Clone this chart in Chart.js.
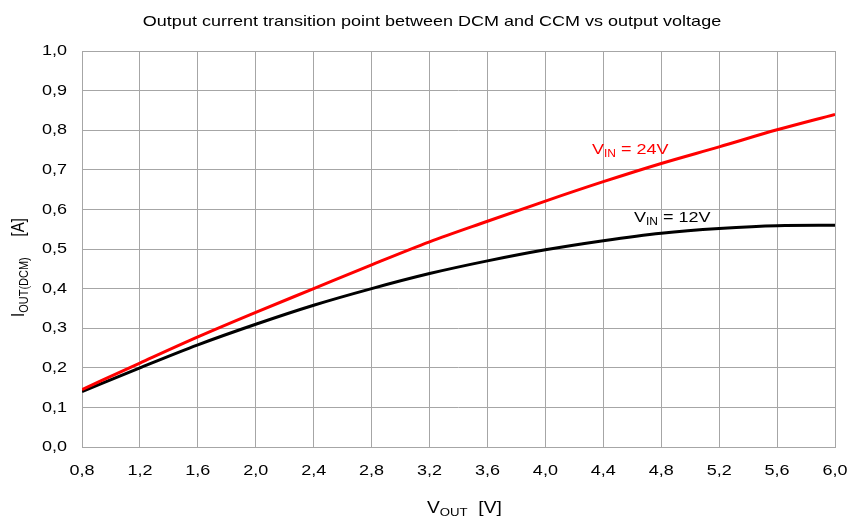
<!DOCTYPE html>
<html>
<head>
<meta charset="utf-8">
<script src="https://cdn.jsdelivr.net/npm/chart.js@4/dist/chart.umd.min.js"></script>
<style>
  html, body { margin: 0; padding: 0; background: #fff; }
  #wrap { width: 850px; height: 518px; }
</style>
</head>
<body>
<div id="wrap"><canvas id="chart"></canvas></div>
<script>
// Output voltage points (V)
const voutValues = [0.8, 1.2, 1.6, 2.0, 2.4, 2.8, 3.2, 3.6, 4.0, 4.4, 4.8, 5.2, 5.6, 6.0];
// IOUT(DCM) for VIN = 12V (A)
const iout12 = [0.140, 0.200, 0.258, 0.310, 0.358, 0.400, 0.438, 0.470, 0.498, 0.521, 0.540, 0.552, 0.559, 0.560];
// IOUT(DCM) for VIN = 24V (A)
const iout24 = [0.145, 0.212, 0.278, 0.340, 0.400, 0.460, 0.518, 0.570, 0.621, 0.670, 0.716, 0.758, 0.801, 0.840];
// tick labels
const xTicks = [0.8, 1.2, 1.6, 2.0, 2.4, 2.8, 3.2, 3.6, 4.0, 4.4, 4.8, 5.2, 5.6, 6.0];
const yTicks = [0, 0.1, 0.2, 0.3, 0.4, 0.5, 0.6, 0.7, 0.8, 0.9, 1.0];

const FONT = "'Liberation Sans', Arial, sans-serif";
const gridGrey = "#a6a6a6";
const SX = 1.2; // the original text is a bit wider than plain Arial

function toPoints(xs, ys) {
    return xs.map((x, i) => ({ x: x, y: ys[i] }));
}

function comma(v) {
    return v.toFixed(1).replace(".", ",");
}

// plain text, horizontally stretched
function stretchText(ctx, text, x, y, align, size, color, baseline) {
    ctx.save();
    ctx.font = size + "px " + FONT;
    ctx.fillStyle = color;
    ctx.textBaseline = baseline || "alphabetic";
    ctx.textAlign = "left";
    const w = ctx.measureText(text).width * SX;
    let left = x;
    if (align === "center") left = x - w / 2;
    if (align === "right") left = x - w;
    ctx.translate(left, y);
    ctx.scale(SX, 1);
    ctx.fillText(text, 0, 0);
    ctx.restore();
}

// "MAIN" + subscript + rest, baseline at 0, left aligned (in current transform)
function subText(ctx, main, sub, rest, size, subSize, color) {
    ctx.fillStyle = color;
    ctx.textBaseline = "alphabetic";
    ctx.textAlign = "left";
    let x = 0;
    ctx.font = size + "px " + FONT;
    ctx.fillText(main, x, 0);
    x += ctx.measureText(main).width;
    ctx.font = subSize + "px " + FONT;
    ctx.fillText(sub, x, size * 0.2);
    x += ctx.measureText(sub).width;
    ctx.font = size + "px " + FONT;
    ctx.fillText(rest, x, 0);
}

// texts: title, tick labels, axis titles with subscripts, curve labels
const textPlugin = {
    id: "texts",
    afterDraw(chart) {
        const ctx = chart.ctx;
        const xs = chart.scales.x;
        const ys = chart.scales.y;

        // chart title
        stretchText(ctx, "Output current transition point between DCM and CCM vs output voltage",
            432, 26, "center", 15, "#000");

        // tick labels from the scales
        xTicks.forEach(v => {
            stretchText(ctx, comma(v), xs.getPixelForValue(v), 475, "center", 15, "#000");
        });
        yTicks.forEach(v => {
            stretchText(ctx, comma(v), 67, ys.getPixelForValue(v), "right", 15, "#000", "middle");
        });

        // x axis title
        ctx.save();
        ctx.translate(427, 513);
        ctx.scale(SX, 1);
        subText(ctx, "V", "OUT", "  [V]", 16, 11, "#000");
        ctx.restore();

        // y axis title (rotated)
        ctx.save();
        ctx.translate(24, 317);
        ctx.rotate(-Math.PI / 2);
        ctx.scale(1, SX);
        subText(ctx, "I", "OUT(DCM)", "     [A]", 15, 11, "#000");
        ctx.restore();

        // curve labels
        ctx.save();
        ctx.translate(592, 154);
        ctx.scale(SX, 1);
        subText(ctx, "V", "IN", " = 24V", 15, 10, "#ff0000");
        ctx.restore();

        ctx.save();
        ctx.translate(634, 222);
        ctx.scale(SX, 1);
        subText(ctx, "V", "IN", " = 12V", 15, 10, "#000");
        ctx.restore();
    }
};

// chart area border
const borderPlugin = {
    id: "areaBorder",
    beforeDatasetsDraw(chart) {
        const { ctx, chartArea } = chart;
        ctx.save();
        ctx.strokeStyle = gridGrey;
        ctx.lineWidth = 1;
        ctx.strokeRect(Math.round(chartArea.left) + 0.5, Math.round(chartArea.top) + 0.5,
            Math.round(chartArea.right - chartArea.left), Math.round(chartArea.bottom - chartArea.top));
        ctx.restore();
    }
};

document.addEventListener("DOMContentLoaded", () => {
    const ctx = document.getElementById("chart").getContext("2d");
    new Chart(ctx, {
        type: "line",
        data: {
            datasets: [
                {
                    label: "VIN = 24V",
                    data: toPoints(voutValues, iout24),
                    borderColor: "#ff0000",
                    borderWidth: 3,
                    pointRadius: 0,
                    cubicInterpolationMode: "monotone",
                    fill: false
                },
                {
                    label: "VIN = 12V",
                    data: toPoints(voutValues, iout12),
                    borderColor: "#000000",
                    borderWidth: 3,
                    pointRadius: 0,
                    cubicInterpolationMode: "monotone",
                    fill: false
                }
            ]
        },
        options: {
            responsive: true,
            maintainAspectRatio: false,
            animation: false,
            layout: {
                padding: { left: 82, right: 15, top: 51, bottom: 71 }
            },
            plugins: {
                legend: { display: false },
                title: { display: false },
                tooltip: { enabled: false }
            },
            scales: {
                x: {
                    type: "linear",
                    min: 0.8,
                    max: 6.0,
                    afterBuildTicks: (scale) => {
                        scale.ticks = xTicks.map(v => ({ value: v }));
                    },
                    grid: { color: gridGrey, drawTicks: false },
                    border: { display: false },
                    ticks: { display: false }
                },
                y: {
                    type: "linear",
                    min: 0,
                    max: 1.0,
                    afterBuildTicks: (scale) => {
                        scale.ticks = yTicks.map(v => ({ value: v }));
                    },
                    grid: { color: gridGrey, drawTicks: false },
                    border: { display: false },
                    ticks: { display: false }
                }
            }
        },
        plugins: [borderPlugin, textPlugin]
    });
});
</script>
</body>
</html>
